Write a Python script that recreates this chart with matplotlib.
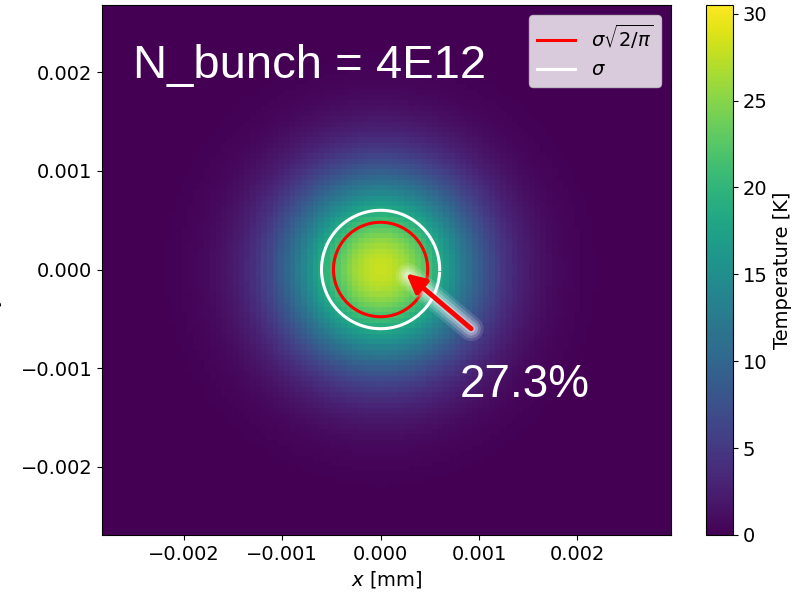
import matplotlib
matplotlib.use("Agg")
import matplotlib.pyplot as plt
import numpy as np

plt.rcParams['font.size'] = 14

# beam spot parameters (metres on the axes, labelled mm)
sigma = 0.0006
spot_width = 0.00066
peak_temp = 28.0
t_max = 30.5
x_range = [-0.00283, 0.00295]
y_range = [-0.00269, 0.00268]
n_bins = 100
bunch_label = "N_bunch = 4E12"
frac_label = "27.3%"
arrow_tail = (0.00092, -0.0006)
arrow_head = (0.00026, -0.00004)
frac_pos = (0.0008, -0.00129)
cbar_ticks = [0, 5, 10, 15, 20, 25, 30]

# temperature map of a round gaussian bunch
xe = np.linspace(x_range[0], x_range[1], n_bins + 1)
ye = np.linspace(y_range[0], y_range[1], n_bins + 1)
xc = 0.5 * (xe[1:] + xe[:-1])
yc = 0.5 * (ye[1:] + ye[:-1])
X, Y = np.meshgrid(xc, yc)
T = peak_temp * np.exp(-(X**2 + Y**2) / (2 * spot_width**2))

fig = plt.figure(figsize=(8.09, 5.98), dpi=100)
ax = fig.add_axes([102/809, 63/598, 569/809, 530/598])
cax = fig.add_axes([706/809, 63/598, 27/809, 530/598])

mesh = ax.pcolormesh(xe, ye, T, cmap='viridis', vmin=0, vmax=t_max)
ax.set_xlim(x_range)
ax.set_ylim(y_range)
ax.set_xticks([-0.002, -0.001, 0.0, 0.001, 0.002])
ax.set_yticks([-0.002, -0.001, 0.0, 0.001, 0.002])
ax.set_xlabel(r'$x$ [mm]')
ax.set_ylabel(r'$y$ [mm]')
ax.yaxis.set_label_coords(-0.172, 0.5)

# circles at sigma and sigma*sqrt(2/pi)
th = np.linspace(0, 2*np.pi, 100, endpoint=False)
r_red = sigma * np.sqrt(2/np.pi)
ax.plot(r_red*np.cos(th), r_red*np.sin(th), color='red', lw=2.2,
        label=r'$\sigma\sqrt{2/\pi}$')
ax.plot(sigma*np.cos(th), sigma*np.sin(th), color='white', lw=2.2,
        label=r'$\sigma$')
ax.legend(loc='upper right')

# glowing arrow pointing at the core
for w, a in [(18, 0.12), (14, 0.18), (10, 0.25), (6, 0.35)]:
    ax.plot([arrow_tail[0], arrow_head[0] + 0.00002],
            [arrow_tail[1], arrow_head[1] - 0.00002],
            color='white', lw=w, alpha=a, solid_capstyle='round', zorder=3)
ax.annotate('', xy=arrow_head, xytext=arrow_tail,
            arrowprops=dict(arrowstyle='-|>', color='red', lw=3.5,
                            mutation_scale=28, shrinkA=0, shrinkB=0),
            zorder=4)

ax.text(0.0545, 0.862, bunch_label, transform=ax.transAxes, color='white',
        fontsize=34, family='Liberation Sans', va='baseline')
ax.text(frac_pos[0], frac_pos[1], frac_label, color='white', fontsize=33,
        family='Liberation Sans', va='baseline')

cb = fig.colorbar(mesh, cax=cax, ticks=cbar_ticks)
cb.set_label('Temperature [K]')

fig.savefig('out.png', dpi=100)
